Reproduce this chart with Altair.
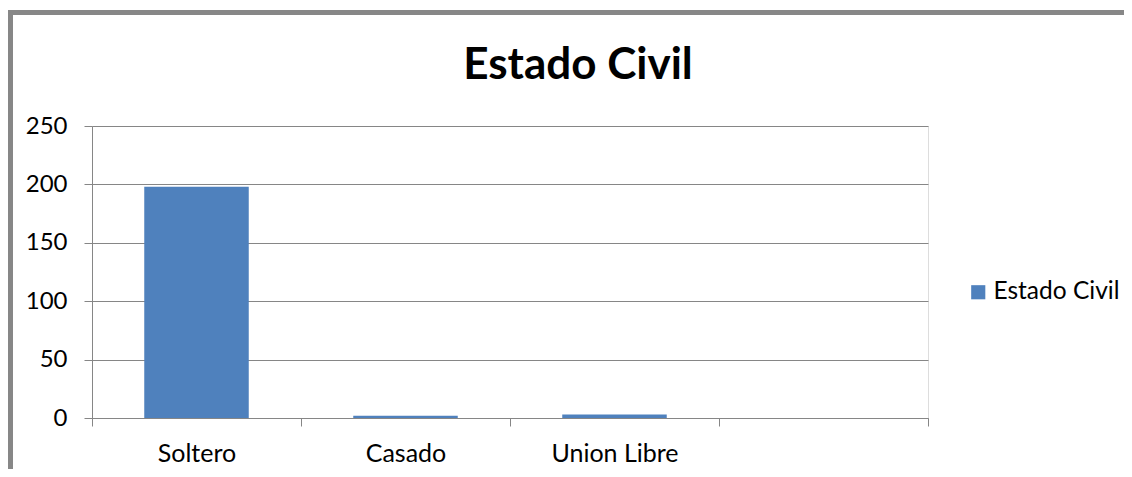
import altair as alt
import pandas as pd

categories = ["Soltero", "Casado", "Union Libre", " "]
values = [198, 2, 3]
series_name = "Estado Civil"

df = pd.DataFrame({
    "cat": categories[:3],
    "val": values,
    "serie": [series_name] * 3,
})

FONT = "Lato"
GRAY = "#868686"

bars = alt.Chart(df).mark_bar(color="#4F81BD", width={"band": 0.5}).encode(
    x=alt.X("cat:N", sort=categories,
            scale=alt.Scale(domain=categories, paddingInner=0, paddingOuter=0),
            axis=alt.Axis(title=None, tickBand="extent", tickSize=8, tickColor=GRAY,
                          domainColor=GRAY, labelAngle=0, labelFont=FONT, labelFontSize=25,
                          labelColor="#000000", labelPadding=15, grid=False)),
    y=alt.Y("val:Q", scale=alt.Scale(domain=[0, 250]),
            axis=alt.Axis(title=None, values=[0, 50, 100, 150, 200, 250], tickSize=8,
                          tickColor=GRAY, domainColor=GRAY, gridColor=GRAY, grid=True,
                          labelFont=FONT, labelFontSize=24, labelColor="#000000",
                          labelPadding=17)),
    color=alt.Color("serie:N", scale=alt.Scale(range=["#4F81BD"]),
                    legend=alt.Legend(title=None, orient="none", legendX=874, legendY=154,
                                      symbolType="square", symbolSize=200,
                                      symbolStrokeWidth=0, labelFont=FONT, labelFontSize=24.5,
                                      labelColor="#000000", labelOffset=3, padding=0)),
)

border_df = pd.DataFrame({"k": [0]})
top_border = alt.Chart(border_df).mark_rule(color="#878787", strokeWidth=5).encode(
    x=alt.value(-84), x2=alt.value(1040), y=alt.value(-113.5))
left_border = alt.Chart(border_df).mark_rule(color="#878787", strokeWidth=5).encode(
    x=alt.value(-81.5), y=alt.value(-116), y2=alt.value(345))

chart = alt.layer(bars, top_border, left_border).properties(
    width=836, height=292,
    autosize=alt.AutoSizeParams(type="none"),
    padding={"left": 84, "top": 118, "right": 196, "bottom": 51},
    title=alt.TitleParams("Estado Civil", font=FONT, fontSize=44, fontWeight="bold",
                          color="#000000", anchor="middle", frame="group", dx=68,
                          baseline="alphabetic", offset=-115),
).configure_view(stroke=None).configure(background="white")

chart.save("out.html", embed_options={"renderer": "svg", "actions": False})
